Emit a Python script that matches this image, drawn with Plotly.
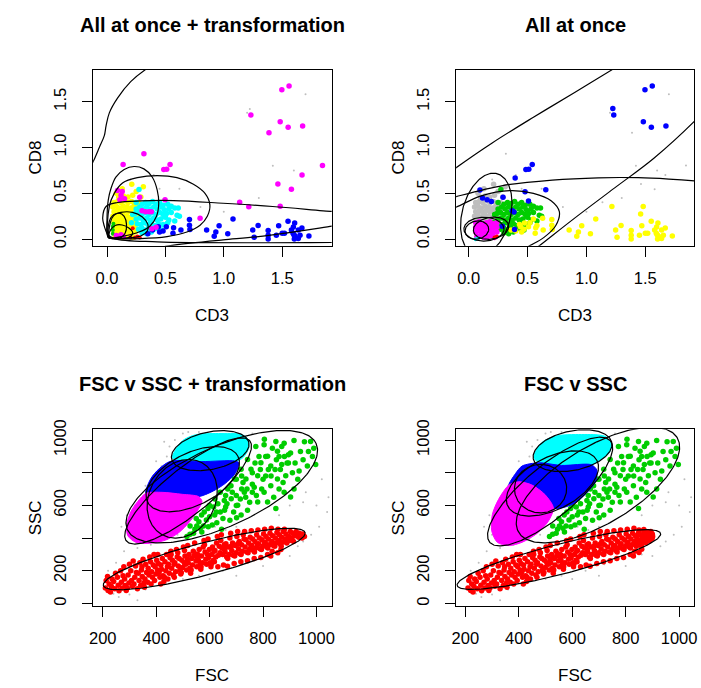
import numpy as np
import plotly.graph_objects as go

RED, GREEN, BLUE, CYAN = "#FF0000", "#00CD00", "#0000FF", "#00FFFF"
MAGENTA, YELLOW, GRAY = "#FF00FF", "#FFFF00", "#BEBEBE"
FONT = "Liberation Sans, Arial, Helvetica, sans-serif"

# ---------------- top panels: CD3 vs CD8 ----------------
far_cd3 = [1.497, 1.559, 1.232, 1.483, 1.551, 1.675, 0.486, 0.511, 0.540]
far_cd8 = [1.629, 1.672, 1.354, 1.282, 1.222, 1.236, 0.761, 0.764, 0.815]
tl_mag_cd3 = [1.387, 0.316, 0.138, 1.845, 1.670, 1.463, 1.579, 1.136, 1.214, 1.483, 0.797, 0.497,
              0.090, 0.120, 0.110, 0.150, 0.130, 0.280, 0.360, 0.380, 0.384, 0.080, 0.120, 0.140,
              0.300, 0.330, 0.420]
tl_mag_cd8 = [1.161, 0.932, 0.815, 0.804, 0.700, 0.603, 0.546, 0.403, 0.354, 0.360, 0.228, 0.430,
              0.530, 0.480, 0.430, 0.440, 0.520, 0.457, 0.300, 0.300, 0.114, 0.040, 0.050, 0.030,
              0.310, 0.300, 0.130]
lr_cd3 = [0.706, 0.706, 0.710, 0.633, 0.570, 0.565, 0.508, 0.440, 0.450, 0.853, 0.960, 0.932, 0.918,
          1.034, 1.079, 1.248, 1.260, 1.294, 1.380, 1.380, 1.380, 1.470, 1.450, 1.500, 1.520, 1.550,
          1.607, 1.596, 1.579, 1.593, 1.610, 1.604, 1.638, 1.653, 1.669, 1.729, 1.638, 1.600]
lr_cd8 = [0.214, 0.153, 0.107, 0.100, 0.124, 0.064, 0.135, 0.135, 0.078, 0.100, 0.146, 0.078, 0.032,
          0.060, 0.221, 0.100, 0.021, 0.150, 0.096, 0.043, 0.003, 0.146, 0.043, 0.064, 0.064, 0.196,
          0.178, 0.132, 0.100, 0.064, 0.035, 0.003, 0.007, 0.043, 0.121, 0.035, 0.100, 0.050]
tl_blue_cd3 = [0.39, 0.35, 0.48]
tl_blue_cd8 = [0.10, 0.06, 0.09]
tr_blue_cd3 = [1.224, 0.395, 0.479, 0.655, 0.096, 0.118, 0.157, 0.193, 0.292, 0.508, 0.385, 0.370, 0.390, 0.286]
tr_blue_cd8 = [1.425, 0.668, 0.518, 0.539, 0.536, 0.450, 0.430, 0.410, 0.457, 0.418, 0.296, 0.310, 0.107, 0.142]
tr_yel_cd3 = [1.216, 1.482, 1.460, 0.628, 0.474, 0.432, 0.360, 0.400, 0.520, 0.470, 0.580, 0.550]
tr_yel_cd8 = [0.357, 0.357, 0.275, 0.228, 0.178, 0.160, 0.100, 0.090, 0.180, 0.110, 0.150, 0.220]
cg_cd3 = [0.274, 0.30, 0.33, 0.36, 0.39, 0.42, 0.45, 0.48, 0.52, 0.55,
          0.25, 0.28, 0.31, 0.34, 0.37, 0.40, 0.43, 0.46, 0.49, 0.53, 0.58, 0.61,
          0.24, 0.27, 0.30, 0.33, 0.36, 0.39, 0.42, 0.45, 0.48, 0.51, 0.55, 0.60,
          0.25, 0.28, 0.31, 0.34, 0.37, 0.40, 0.43, 0.46, 0.50, 0.53, 0.58, 0.62,
          0.26, 0.29, 0.32, 0.35, 0.38, 0.41, 0.44, 0.48, 0.52,
          0.27, 0.30, 0.33, 0.36, 0.40, 0.43, 0.47,
          0.30, 0.34, 0.38, 0.25, 0.22, 0.21]
cg_cd8 = [0.542, 0.38, 0.40, 0.39, 0.41, 0.38, 0.40, 0.37, 0.38, 0.36,
          0.33, 0.35, 0.33, 0.35, 0.33, 0.35, 0.33, 0.35, 0.32, 0.33, 0.34, 0.34,
          0.28, 0.29, 0.27, 0.29, 0.27, 0.29, 0.27, 0.29, 0.27, 0.28, 0.29, 0.26,
          0.22, 0.23, 0.21, 0.23, 0.21, 0.23, 0.21, 0.22, 0.24, 0.21, 0.20, 0.25,
          0.17, 0.16, 0.18, 0.16, 0.17, 0.15, 0.17, 0.16, 0.18,
          0.11, 0.12, 0.10, 0.12, 0.11, 0.12, 0.10,
          0.07, 0.06, 0.08, 0.40, 0.27, 0.18]
yg_cd3 = [0.06, 0.09, 0.12, 0.15, 0.18, 0.21, 0.24,
          0.05, 0.08, 0.11, 0.14, 0.17, 0.20, 0.23, 0.26,
          0.06, 0.09, 0.12, 0.15, 0.18, 0.21, 0.24, 0.27,
          0.05, 0.08, 0.11, 0.14, 0.17, 0.20, 0.23, 0.26,
          0.06, 0.10, 0.14, 0.19, 0.23,
          0.212, 0.311, 0.08, 0.10, 0.14, 0.29, 0.27, 0.18, 0.22, 0.13, 0.25]
yg_cd8 = [0.40, 0.41, 0.40, 0.42, 0.40, 0.41, 0.39,
          0.35, 0.36, 0.34, 0.36, 0.35, 0.34, 0.36, 0.35,
          0.30, 0.31, 0.29, 0.31, 0.30, 0.31, 0.29, 0.31,
          0.25, 0.26, 0.24, 0.26, 0.25, 0.24, 0.26, 0.24,
          0.21, 0.22, 0.21, 0.22, 0.21,
          0.60, 0.571, 0.50, 0.46, 0.47, 0.46, 0.40, 0.46, 0.48, 0.55, 0.52]
ic_cd3 = [0.06, 0.09, 0.12, 0.15, 0.18, 0.21, 0.24, 0.06, 0.09, 0.12, 0.15, 0.18, 0.21, 0.24,
          0.06, 0.09, 0.12, 0.15, 0.18, 0.21, 0.24, 0.07, 0.10, 0.13, 0.16, 0.19, 0.22]
ic_cd8 = [0.18, 0.19, 0.17, 0.18, 0.19, 0.17, 0.18, 0.13, 0.14, 0.12, 0.13, 0.14, 0.12, 0.13,
          0.08, 0.09, 0.07, 0.08, 0.09, 0.07, 0.08, 0.03, 0.04, 0.02, 0.03, 0.04, 0.02]
tl_green_cd3 = [0.05, 0.05, 0.05, 0.055]
tl_green_cd8 = [0.06, 0.10, 0.14, 0.17]
tl_red_cd3 = [0.22, 0.20, 0.24, 0.28, 0.26]
tl_red_cd8 = [0.12, 0.02, 0.02, 0.02, 0.03]
tr_cyan_cd3 = [0.06, 0.08]
tr_cyan_cd8 = [0.00, 0.01]
tr_red_cd3 = [0.22, 0.24]
tr_red_cd8 = [0.02, 0.03]
tiny_cd3 = [1.223, 1.20, 1.70, 0.62, 0.40, 0.80, 1.00, 1.30, 1.42, 1.60, 0.20, 0.45]
tiny_cd8 = [1.421, 1.38, 1.58, 0.55, 0.70, 0.35, 0.30, 0.45, 0.80, 0.75, 0.65, 0.55]
tr_tiny_cd3 = [1.387, 0.316, 1.845, 1.670, 1.463, 1.579, 1.136]
tr_tiny_cd8 = [1.161, 0.932, 0.804, 0.700, 0.603, 0.546, 0.403]

tl_c1_x = [-0.13, -0.113, -0.065, -0.023, -0.008, 0.02, 0.09, 0.203, 0.33, 0.37]
tl_c1_y = [0.82, 0.861, 1.003, 1.129, 1.236, 1.378, 1.539, 1.718, 1.85, 1.88]
tl_c2_x = [0.006, 0.0, 0.011, 0.034, 0.076, 0.147, 0.232, 0.316, 0.387, 0.43, 0.443, 0.424, 0.367, 0.274, 0.147, 0.034, 0.006]
tl_c2_y = [0.035, 0.214, 0.429, 0.553, 0.678, 0.761, 0.793, 0.767, 0.678, 0.536, 0.392, 0.25, 0.142, 0.078, 0.035, 0.014, 0.035]
tl_c3_x = [0.01, 0.02, 0.062, 0.133, 0.26, 0.43, 0.599, 0.74, 0.839, 0.881, 0.859, 0.797, 0.684, 0.514, 0.288, 0.034, 0.01]
tl_c3_y = [0.02, 0.357, 0.5, 0.614, 0.671, 0.693, 0.671, 0.60, 0.50, 0.375, 0.25, 0.153, 0.078, 0.028, 0.007, 0.011, 0.02]
tl_c4_x = [1.98, 1.926, 1.418, 0.994, 0.57, 0.288, 0.09, -0.008, -0.037, -0.023, 0.006, 0.062, 0.43, 1.926, 1.98]
tl_c4_y = [0.30, 0.303, 0.357, 0.392, 0.421, 0.418, 0.40, 0.357, 0.232, 0.142, 0.053, 0.007, -0.029, -0.036, -0.036]
tl_c5_x = [0.45, 0.5, 0.712, 0.994, 1.277, 1.559, 1.926, 1.98]
tl_c5_y = [-0.09, -0.079, -0.043, -0.007, 0.025, 0.071, 0.142, 0.152]
tl_c6_x = [0.01, 0.02, 0.048, 0.119, 0.218, 0.303, 0.35, 0.345, 0.288, 0.147, 0.03, 0.01]
tl_c6_y = [0.02, 0.196, 0.257, 0.293, 0.293, 0.242, 0.161, 0.089, 0.035, 0.011, 0.008, 0.02]
tl_c7_x = [0.02, 0.028, 0.057, 0.104, 0.147, 0.167, 0.155, 0.119, 0.048, 0.02]
tl_c7_y = [0.02, 0.178, 0.257, 0.285, 0.25, 0.161, 0.064, 0.017, 0.007, 0.02]
tl_c8_x = [0.02, 0.03, 0.07, 0.13, 0.19, 0.22, 0.19, 0.10, 0.02]
tl_c8_y = [0.02, 0.10, 0.15, 0.155, 0.12, 0.07, 0.02, 0.005, 0.02]

tr_c1_x = [-0.2, -0.106, 0.2, 0.55, 0.9, 1.22, 1.3]
tr_c1_y = [0.69, 0.78, 1.05, 1.33, 1.6, 1.85, 1.91]
tr_c2_x = [0.52, 0.6, 0.9, 1.24, 1.57, 1.92, 2.0]
tr_c2_y = [-0.15, -0.072, 0.23, 0.56, 0.88, 1.29, 1.4]
tr_c3_x = [-0.2, -0.106, 0.29, 0.71, 1.1, 1.44, 1.7, 1.916, 2.0]
tr_c3_y = [0.43, 0.464, 0.585, 0.645, 0.67, 0.671, 0.656, 0.636, 0.625]
tr_c4_x = [-0.2, -0.106, 0.1, 0.35, 0.55, 0.7, 0.77, 0.74, 0.64, 0.52, 0.45]
tr_c4_y = [0.31, 0.35, 0.47, 0.53, 0.50, 0.42, 0.30, 0.15, 0.02, -0.07, -0.12]
tr_ell_c = [(0.15, 0.27), (0.13, 0.11), (0.07, 0.10), (0.19, 0.12)]
tr_ell_p1 = [(0.36, 0.27), (0.30, 0.11), (0.17, 0.10), (0.34, 0.14)]
tr_ell_p2 = [(0.21, 0.72), (0.13, 0.24), (0.08, 0.20), (0.19, 0.24)]

# ---------------- bottom panels: FSC vs SSC ----------------
gr_fsc = [515, 527, 527, 545, 552, 571, 577, 560, 588, 570,
          594, 600, 610, 619, 627, 631, 640, 645, 650, 656,
          665, 676, 681, 668, 690, 701, 705, 693, 715, 718,
          718, 720, 730, 736, 742, 742, 750, 755, 760, 767,
          773, 775, 780, 780, 785, 792, 795, 804, 804, 805,
          810, 817, 817, 820, 829, 829, 835, 840, 848, 848,
          850, 854, 854, 860, 865, 870, 875, 879, 879, 885,
          890, 895, 903, 903, 910, 916, 916, 920, 930, 935,
          940, 950, 955, 966, 970, 978, 985, 997, 990, 600,
          620, 640, 660, 680, 700, 700, 720, 740, 760, 770,
          790, 800, 810, 830, 845, 860, 870, 880, 895, 700,
          660, 580, 550, 615, 735, 760, 725, 685, 655, 625,
          595, 540, 565]
gr_ssc = [410, 424, 474, 455, 474, 438, 474, 500, 511, 541,
          581, 530, 480, 541, 494, 611, 560, 454, 520, 571,
          610, 510, 641, 701, 560, 524, 601, 761, 640, 541,
          821, 700, 681, 761, 571, 881, 620, 821, 730, 711,
          961, 660, 621, 781, 900, 861, 700, 681, 971, 1005,
          780, 621, 901, 820, 721, 841, 950, 650, 581, 991,
          880, 761, 931, 700, 820, 960, 740, 681, 981, 781,
          860, 910, 651, 921, 800, 701, 997, 860, 760, 811,
          930, 880, 990, 841, 930, 991, 900, 851, 950, 600,
          640, 680, 660, 720, 660, 760, 780, 700, 800, 860,
          820, 760, 900, 780, 820, 900, 850, 900, 860, 600,
          590, 560, 520, 590, 650, 680, 740, 680, 630, 560,
          470, 430, 460]

red_core_fsc = [210, 213, 220, 224, 218, 232, 235, 229, 245, 241, 248, 258, 255, 261, 270,
                273, 267, 276, 282, 285, 279, 288, 295, 298, 292, 300, 308, 305, 311, 314,
                320, 323, 317, 326, 330, 333, 336, 339, 342, 345, 348, 351, 354, 347, 358,
                361, 364, 356, 370, 373, 376, 368, 379, 383, 386, 389, 381, 392, 396, 399,
                402, 394, 405, 408, 411, 414, 406, 417, 420, 423, 426, 418, 429, 433, 436,
                439, 431, 442, 446, 449, 452, 444, 455, 458, 461, 464, 456, 467, 470, 473,
                476, 468, 479, 483, 486, 489, 481, 492, 496, 499, 502, 494, 505, 508, 511,
                514, 506, 517, 520, 523, 526, 518, 529, 533, 536, 539, 531, 542, 546, 549,
                552, 544, 555, 558, 561, 564, 556, 567, 570, 573, 576, 568, 579, 583, 586,
                589, 581, 592, 596, 599, 602, 594, 605, 608, 611, 614, 606, 617, 620, 623,
                626, 618, 629, 633, 636, 639, 631, 642, 646, 649, 652, 644, 655, 658, 661,
                664, 656, 667, 670, 673, 676, 668, 679, 683, 686, 689, 681, 692, 696, 699,
                702, 694, 705, 708, 711, 714, 706, 717, 720, 723, 726, 718, 729, 733, 736,
                739, 731, 742, 746, 749, 752, 744, 755, 758, 761, 764, 756, 767, 770, 773,
                776, 768, 779, 783, 786, 789, 781, 792, 796, 799, 802, 794, 805, 808, 811,
                814, 806, 817, 820, 823, 826, 818, 829, 833, 836, 839, 831, 834]
red_core_ssc = [95, 140, 80, 120, 165, 105, 150, 70, 90, 135, 185, 112, 160, 78, 130,
                95, 200, 170, 150, 110, 225, 80, 175, 125, 95, 240, 140, 200, 105, 260,
                160, 230, 120, 190, 90, 185, 140, 250, 110, 205, 165, 270, 125, 225, 150,
                240, 190, 100, 215, 175, 285, 130, 255, 195, 160, 235, 120, 300, 225, 180,
                265, 140, 205, 245, 190, 160, 300, 120, 210, 275, 170, 235, 135, 255, 200,
                300, 160, 225, 240, 185, 280, 150, 320, 215, 265, 175, 300, 240, 250, 195,
                330, 160, 285, 230, 275, 205, 310, 180, 265, 220, 345, 190, 250, 290, 240,
                205, 325, 270, 250, 300, 215, 355, 185, 275, 235, 320, 205, 290, 305, 260,
                225, 370, 280, 265, 330, 240, 300, 210, 290, 250, 345, 225, 385, 315, 270,
                240, 360, 300, 280, 330, 250, 395, 225, 300, 345, 265, 240, 320, 325, 285,
                370, 255, 410, 295, 350, 310, 225, 385, 340, 300, 235, 420, 360, 315, 365,
                285, 330, 228, 345, 300, 400, 275, 430, 325, 370, 295, 350, 245, 355, 310,
                410, 290, 440, 335, 380, 305, 365, 255, 360, 320, 420, 300, 395, 345, 390,
                315, 440, 262, 370, 330, 405, 310, 350, 355, 395, 325, 445, 275, 380, 340,
                420, 315, 360, 365, 400, 335, 450, 282, 390, 350, 425, 330, 370, 375, 410,
                345, 455, 300, 395, 360, 430, 340, 290, 380, 415, 355, 460, 320]
red_bl_tail_fsc = [846, 849, 852, 844, 855, 858, 861, 864, 856, 867, 870, 873, 876, 868, 883, 886,
                   889, 880, 896, 899, 902, 908, 911, 914, 920, 924, 933, 936, 946, 949, 955]
red_bl_tail_ssc = [400, 370, 435, 350, 310, 385, 420, 365, 455, 330, 405, 375, 440, 350, 395, 425,
                   370, 455, 410, 385, 440, 400, 430, 380, 415, 440, 405, 430, 400, 425, 410]
red_br_tail_fsc = [842, 845, 848, 840, 850, 852, 855, 858, 850, 860, 862, 865, 868, 860, 870, 873,
                   876, 868, 878, 881, 884, 885, 888, 890, 892, 894, 896, 898, 899, 900, 901]
red_br_tail_ssc = [400, 370, 432, 350, 312, 385, 420, 365, 450, 332, 405, 378, 438, 350, 395, 425,
                   372, 452, 410, 388, 438, 402, 430, 382, 415, 440, 405, 428, 398, 422, 410]

tiny_fsc = [240, 300, 360, 420, 500, 560, 650, 720, 790, 860, 930, 980, 1010, 1040, 1000, 960, 1020,
            250, 220, 280, 330, 380, 440, 480, 520, 300, 270, 290, 320, 350, 360, 390, 420, 400, 440,
            450, 470, 500, 430, 520, 560, 760, 620, 660, 700, 860, 900, 950, 1045, 270, 260, 330, 600,
            700, 800, 900, 950]
tiny_ssc = [60, 55, 85, 120, 150, 170, 200, 240, 270, 300, 350, 420, 470, 560, 600, 680, 760,
            250, 200, 320, 340, 360, 400, 420, 430, 420, 470, 540, 600, 640, 720, 780, 840, 870, 900,
            960, 1000, 1040, 990, 1050, 1050, 1040, 470, 450, 470, 540, 600, 620, 650, 130, 40, 20, 150,
            170, 230, 290, 380]

bl_cyan_f = [460.5, 497.5, 547, 633, 720, 744, 747, 726, 695, 572, 473]
bl_cyan_s = [894, 994, 1032, 1040, 1034, 1004, 954, 894, 868, 864, 874]
bl_blue_f = [361.7, 380, 411, 454, 571.6, 695, 710, 695, 658, 608.6, 559, 497.5, 423]
bl_blue_s = [674, 764, 824, 870, 868, 872, 860, 794, 734, 684, 654, 664, 680]
bl_mag_f = [361.7, 423, 497.5, 559, 571.6, 553, 522, 485, 435.8, 374, 324.7, 294, 290, 306, 331]
bl_mag_s = [674, 680, 668, 654, 624, 564, 494, 434, 388, 368, 374, 414, 484, 564, 624]
br_cyan_f = [455.6, 486, 535.8, 634.6, 721, 745.7, 739.5, 702.5, 671.6, 560.5, 474]
br_cyan_s = [894, 984, 1024, 1034, 1024, 984, 924, 874, 848, 844, 864]
br_blue_f = [363, 387.7, 412.3, 474, 560.5, 671.6, 692.6, 686.4, 653, 609.9, 560.5, 529.6, 498.8, 449.4, 400]
br_blue_s = [724.7, 794.8, 840.8, 860.9, 844.8, 848.9, 814.8, 744.7, 674.7, 614.6, 584.6, 584.6, 664.6, 724.7, 744.7]
br_mag_f = [363, 400, 449.4, 498.8, 529.6, 511, 467.9, 412.3, 363, 319.8, 298.8, 301.2, 323.5]
br_mag_s = [724.7, 744.7, 724.7, 664.6, 584.6, 504.5, 428.4, 374.4, 354.4, 374.4, 444.5, 544.5, 634.6]

bl_ell_c = [(580, 272), (645.6, 714.7), (602.3, 934.9), (536.9, 760.8), (497.4, 640.6), (519.6, 688.7)]
bl_ell_p1 = [(958, 430), (998.6, 979), (746.8, 985), (706, 900.9), (571.5, 860.9), (750.5, 995)]
bl_ell_p2 = [(580, 374), (708.5, 494.5), (617.2, 822.8), (581.4, 618.6), (606, 544.5), (574, 580.6)]
br_ell_c = [(550, 269), (696.3, 724.7), (601.2, 934.9), (525.9, 734.7), (481.5, 702.7), (517.3, 684.7)]
br_ell_p1 = [(931, 425), (992.6, 1015), (748.1, 985), (692.6, 874.9), (579, 712.7), (743.2, 995)]
br_ell_p2 = [(550, 364), (771.6, 522.5), (616, 816.8), (570.4, 592.6), (487.7, 554.6), (579, 564.6)]

titles = ["All at once + transformation", "All at once", "FSC v SSC + transformation", "FSC v SSC"]
xlabels = ["CD3", "CD3", "FSC", "FSC"]
ylabels = ["CD8", "CD8", "SSC", "SSC"]
top_ticks = [0.0, 0.5, 1.0, 1.5]
top_ticktext = ["0.0", "0.5", "1.0", "1.5"]
bot_xticks = [200, 400, 600, 800, 1000]
bot_yticks = [0, 200, 400, 600, 800, 1000]
bot_yticktext = ["0", "200", "", "600", "", "1000"]

# ---------------- figure ----------------
W, H = 701, 688
fig = go.Figure()
AX = {"TL": ("x", "y"), "TR": ("x2", "y2"), "BL": ("x3", "y3"), "BR": ("x4", "y4")}


def add_pts(panel, xs, ys, color, size=5.5):
    xa, ya = AX[panel]
    fig.add_trace(go.Scatter(x=xs, y=ys, mode="markers", xaxis=xa, yaxis=ya,
                             marker=dict(color=color, size=size, line=dict(width=0)),
                             showlegend=False, hoverinfo="skip"))


def add_curve(panel, xs, ys, width=1.2):
    xa, ya = AX[panel]
    fig.add_trace(go.Scatter(x=xs, y=ys, mode="lines", xaxis=xa, yaxis=ya,
                             line=dict(color="black", width=width, shape="spline", smoothing=1.0),
                             showlegend=False, hoverinfo="skip"))


def add_ellipse(panel, c, p1, p2, width=1.2):
    t = np.linspace(0, 2 * np.pi, 241)
    x = c[0] + (p1[0] - c[0]) * np.cos(t) + (p2[0] - c[0]) * np.sin(t)
    y = c[1] + (p1[1] - c[1]) * np.cos(t) + (p2[1] - c[1]) * np.sin(t)
    xa, ya = AX[panel]
    fig.add_trace(go.Scatter(x=x, y=y, mode="lines", xaxis=xa, yaxis=ya,
                             line=dict(color="black", width=width),
                             showlegend=False, hoverinfo="skip"))


def add_region(panel, xs, ys, color):
    xa, ya = AX[panel]
    fig.add_trace(go.Scatter(x=xs + xs[:1], y=ys + ys[:1], mode="lines", fill="toself",
                             fillcolor=color, xaxis=xa, yaxis=ya,
                             line=dict(color=color, width=1, shape="spline", smoothing=0.8),
                             showlegend=False, hoverinfo="skip"))


add_pts("TL", tiny_cd3, tiny_cd8, GRAY, 2)
add_pts("TL", yg_cd3, yg_cd8, YELLOW)
add_pts("TL", ic_cd3, ic_cd8, YELLOW)
add_pts("TL", cg_cd3, cg_cd8, CYAN)
add_pts("TL", lr_cd3, lr_cd8, BLUE)
add_pts("TL", tl_blue_cd3, tl_blue_cd8, BLUE)
add_pts("TL", tl_green_cd3, tl_green_cd8, GREEN, 4)
add_pts("TL", tl_red_cd3, tl_red_cd8, RED, 4)
add_pts("TL", far_cd3, far_cd8, MAGENTA)
add_pts("TL", tl_mag_cd3, tl_mag_cd8, MAGENTA)
for cx, cy in [(tl_c1_x, tl_c1_y), (tl_c2_x, tl_c2_y), (tl_c3_x, tl_c3_y), (tl_c4_x, tl_c4_y),
               (tl_c5_x, tl_c5_y), (tl_c6_x, tl_c6_y), (tl_c7_x, tl_c7_y), (tl_c8_x, tl_c8_y)]:
    add_curve("TL", cx, cy)

add_pts("TR", tiny_cd3, tiny_cd8, GRAY, 2)
add_pts("TR", tr_tiny_cd3, tr_tiny_cd8, GRAY, 2)
add_pts("TR", yg_cd3, yg_cd8, GRAY)
add_pts("TR", cg_cd3, cg_cd8, GREEN)
add_pts("TR", ic_cd3, ic_cd8, MAGENTA)
add_pts("TR", tr_cyan_cd3, tr_cyan_cd8, CYAN, 4)
add_pts("TR", tr_red_cd3, tr_red_cd8, RED, 4)
add_pts("TR", lr_cd3, lr_cd8, YELLOW)
add_pts("TR", tr_yel_cd3, tr_yel_cd8, YELLOW)
add_pts("TR", far_cd3, far_cd8, BLUE)
add_pts("TR", tr_blue_cd3, tr_blue_cd8, BLUE)
for cx, cy in [(tr_c1_x, tr_c1_y), (tr_c2_x, tr_c2_y), (tr_c3_x, tr_c3_y), (tr_c4_x, tr_c4_y)]:
    add_curve("TR", cx, cy)
for c, p1, p2 in zip(tr_ell_c, tr_ell_p1, tr_ell_p2):
    add_ellipse("TR", c, p1, p2)

for panel, tail_f, tail_s, regions, ells in [
    ("BL", red_bl_tail_fsc, red_bl_tail_ssc,
     [(bl_cyan_f, bl_cyan_s, CYAN), (bl_blue_f, bl_blue_s, BLUE), (bl_mag_f, bl_mag_s, MAGENTA)],
     (bl_ell_c, bl_ell_p1, bl_ell_p2)),
    ("BR", red_br_tail_fsc, red_br_tail_ssc,
     [(br_cyan_f, br_cyan_s, CYAN), (br_blue_f, br_blue_s, BLUE), (br_mag_f, br_mag_s, MAGENTA)],
     (br_ell_c, br_ell_p1, br_ell_p2))]:
    add_pts(panel, tiny_fsc, tiny_ssc, GRAY, 2)
    add_pts(panel, red_core_fsc + tail_f, red_core_ssc + tail_s, RED)
    add_pts(panel, gr_fsc, gr_ssc, GREEN)
    for rf, rs, col in regions:
        add_region(panel, rf, rs, col)
    for c, p1, p2 in zip(*ells):
        add_ellipse(panel, c, p1, p2)

boxes = {
    "TL": (90, 61, 331, 240), "TR": (456.7, 61, 697.3, 240),
    "BL": (90, 426.7, 331, 606.7), "BR": (456.7, 426.7, 697.3, 606.7)}
ranges = {"TL": ([-0.119, 1.924], [-0.072, 1.846]), "TR": ([-0.106, 1.916], [-0.072, 1.846]),
          "BL": ([164, 1057], [-16, 1066]), "BR": ([165.6, 1057], [-16, 1066])}
common = dict(showline=True, linecolor="black", linewidth=1, mirror=True, ticks="outside",
              ticklen=10, tickwidth=1, tickcolor="black", showgrid=False, zeroline=False,
              tickfont=dict(family=FONT, size=16.5, color="black"))
layout_axes = {}
for i, p in enumerate(["TL", "TR", "BL", "BR"]):
    l, t, r, b = boxes[p]
    sx = "" if i == 0 else str(i + 1)
    top = p in ("TL", "TR")
    layout_axes["xaxis" + sx] = dict(common, domain=[l / W, r / W], range=ranges[p][0],
                                     anchor="y" + sx,
                                     tickvals=top_ticks if top else bot_xticks,
                                     ticktext=top_ticktext if top else [str(v) for v in bot_xticks],
                                     ticklabelstandoff=7)
    layout_axes["yaxis" + sx] = dict(common, domain=[1 - b / H, 1 - t / H], range=ranges[p][1],
                                     anchor="x" + sx, tickangle=-90,
                                     tickvals=top_ticks if top else bot_yticks,
                                     ticktext=top_ticktext if top else bot_yticktext,
                                     ticklabelstandoff=10)

annotations = []
for i, p in enumerate(["TL", "TR", "BL", "BR"]):
    l, t, r, b = boxes[p]
    cx = (l + r) / 2
    annotations.append(dict(text="<b>" + titles[i] + "</b>", x=cx / W, y=1 - (t - 46) / H,
                            xref="paper", yref="paper", showarrow=False, xanchor="center",
                            yanchor="middle", font=dict(family=FONT, size=20, color="black")))
    annotations.append(dict(text=xlabels[i], x=cx / W, y=1 - (b + 71) / H,
                            xref="paper", yref="paper", showarrow=False, xanchor="center",
                            yanchor="middle", font=dict(family=FONT, size=17, color="black")))
    annotations.append(dict(text=ylabels[i], x=(l - 58) / W, y=1 - ((t + b) / 2) / H,
                            xref="paper", yref="paper", showarrow=False, xanchor="center",
                            yanchor="middle", textangle=-90,
                            font=dict(family=FONT, size=17, color="black")))

fig.update_layout(width=W, height=H, margin=dict(l=0, r=0, t=0, b=0), autosize=False,
                  paper_bgcolor="white", plot_bgcolor="white", showlegend=False,
                  annotations=annotations, **layout_axes)
fig.write_html("out.html")
